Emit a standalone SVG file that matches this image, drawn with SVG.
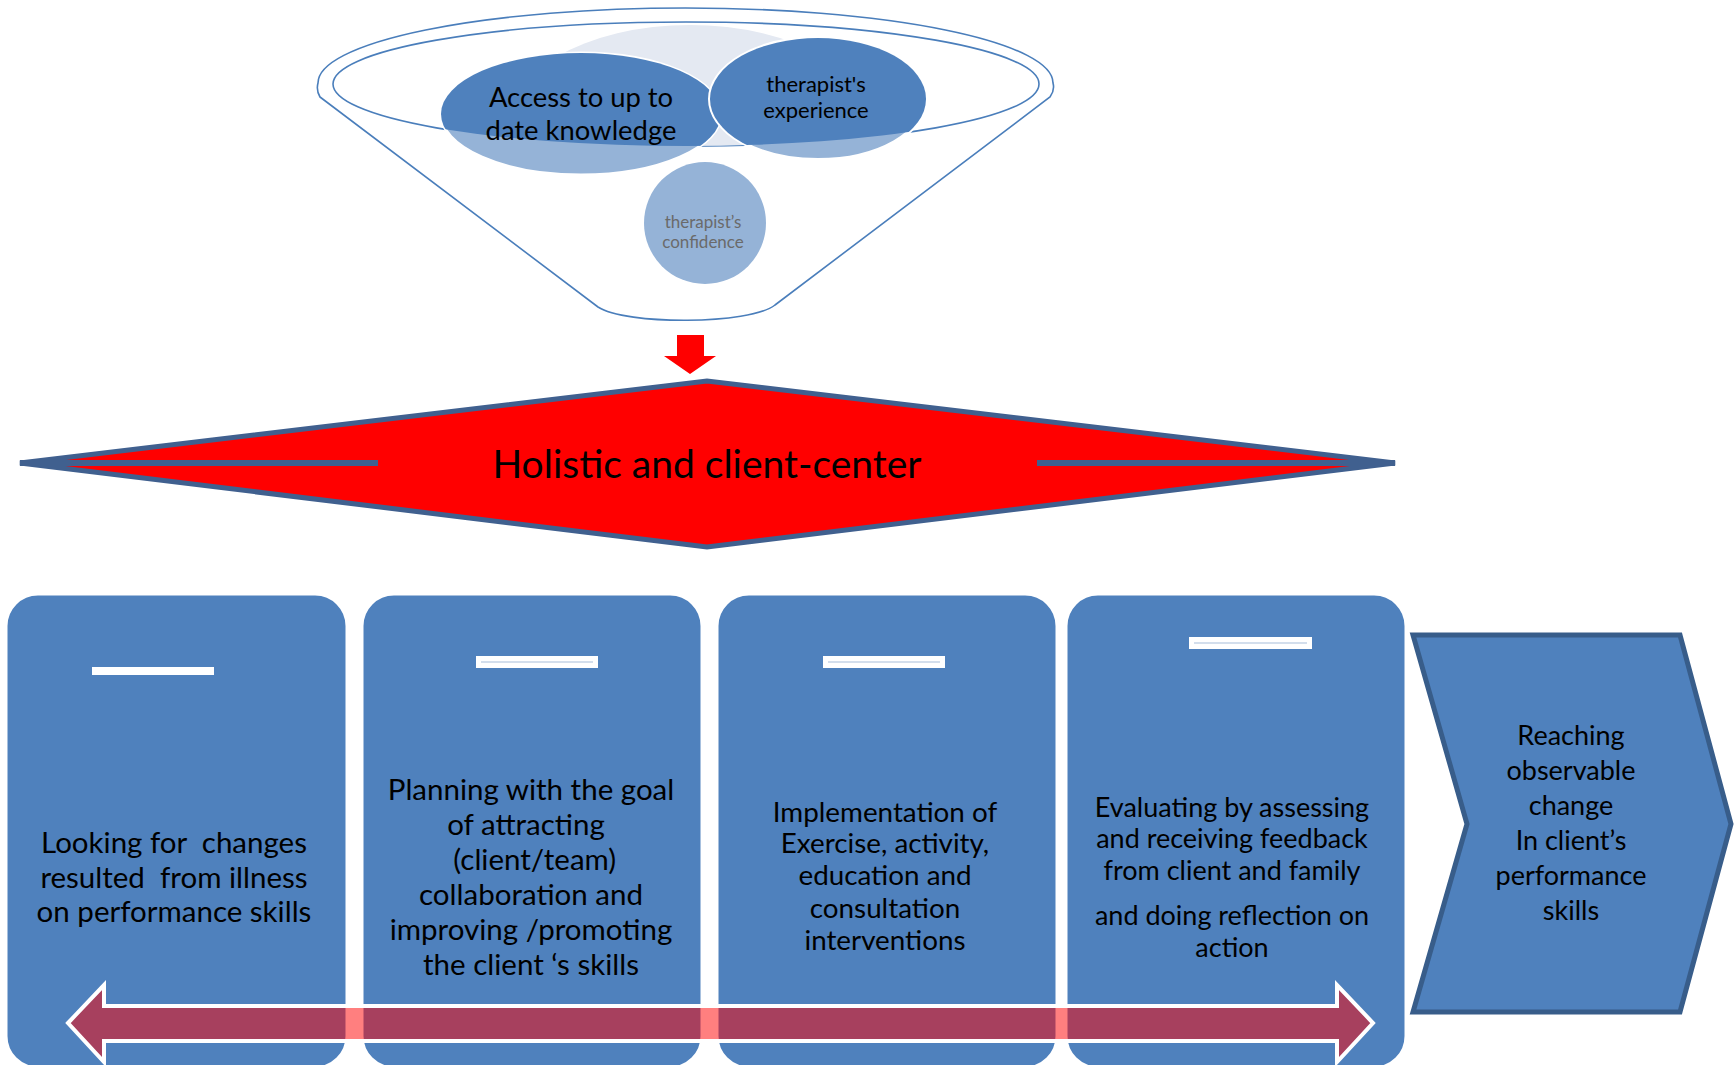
<svg xmlns="http://www.w3.org/2000/svg" width="1736" height="1065" viewBox="0 0 1736 1065">
<style>
text{font-family:Lato,"Liberation Sans",sans-serif;text-anchor:middle;fill:#000;white-space:pre}
.card{fill:#4f81bd;stroke:#fff;stroke-width:3}
.ct{font-size:29.5px}
.ct2{font-size:27.8px}
.ct3{font-size:27px}
.bar{fill:#fff}
.barl{stroke:#c5d3e6;stroke-width:1.5}
.fun{fill:none;stroke:#4a7ebb;stroke-width:1.6}
</style>
<defs>
<clipPath id="inner"><ellipse cx="686" cy="84" rx="353" ry="62"/></clipPath>
</defs>
<rect width="1736" height="1065" fill="#fff"/>
<g id="funnel">
<path class="fun" d="M320,97 L598,307 C625,325 750,325 775,305 L1050,97 Q1055,90 1053,83 A367.5,75 0 0 0 318,83 Q316,90 320,97 Z"/>
<ellipse class="fun" cx="686" cy="84" rx="353" ry="62"/>
<ellipse cx="690" cy="135" rx="190" ry="110" fill="#e4e9f2" clip-path="url(#inner)"/>
</g>
<g id="knowledge">
<ellipse cx="581" cy="114" rx="140" ry="61" fill="#95b3d7" stroke="#fff" stroke-width="3"/>
<ellipse cx="581" cy="114" rx="140" ry="61" fill="#4f81bd" clip-path="url(#inner)"/>
<text x="581" y="107" font-size="27.4">Access to up to</text>
<text x="581" y="140" font-size="27.4">date knowledge</text>
</g>
<g id="experience">
<ellipse cx="818" cy="99" rx="108" ry="61" fill="#95b3d7" stroke="#fff" stroke-width="4"/>
<ellipse cx="818" cy="99" rx="108" ry="61" fill="#4f81bd" clip-path="url(#inner)"/>
<text x="816" y="92" font-size="22">therapist's</text>
<text x="816" y="118" font-size="22">experience</text>
</g>
<g id="confidence">
<ellipse cx="705" cy="223" rx="61" ry="61" fill="#95b3d7"/>
<text x="703" y="228" font-size="17" style="fill:#6a6a6a">therapist’s</text>
<text x="703" y="248" font-size="17" style="fill:#6a6a6a">confidence</text>
</g>
<g id="holistic">
<polygon points="20,463 707,381 1395,463 707,547" fill="#ff0000" stroke="#40608f" stroke-width="5" stroke-linejoin="miter"/>
<line x1="20" y1="463" x2="378" y2="463" stroke="#40608f" stroke-width="6"/>
<line x1="1037" y1="463" x2="1395" y2="463" stroke="#40608f" stroke-width="6"/>
<text x="707" y="478" font-size="39">Holistic and client-center</text>
</g>
<g id="card1">
<rect class="card" x="6" y="594" width="341" height="474" rx="32"/>
<rect class="bar" x="92" y="667" width="122" height="8"/>
<text class="ct" x="174" y="853">Looking for  changes</text>
<text class="ct" x="174" y="888">resulted  from illness</text>
<text class="ct" x="174" y="922">on performance skills</text>
</g>
<g id="card2">
<rect class="card" x="362" y="594" width="340" height="474" rx="32"/>
<rect class="bar" x="476" y="656" width="122" height="12"/>
<line class="barl" x1="481" y1="662" x2="593" y2="662"/>
<text class="ct" x="531" y="800">Planning with the goal</text>
<text class="ct" x="526" y="835">of attracting</text>
<text class="ct" x="531" y="870"> (client/team)</text>
<text class="ct" x="531" y="905">collaboration and</text>
<text class="ct" x="531" y="940">improving /promoting</text>
<text class="ct" x="531" y="975">the client ‘s skills</text>
</g>
<g id="card3">
<rect class="card" x="717" y="594" width="340" height="474" rx="32"/>
<rect class="bar" x="823" y="656" width="122" height="12"/>
<line class="barl" x1="828" y1="662" x2="940" y2="662"/>
<text class="ct2" x="885" y="822">Implementation of</text>
<text class="ct2" x="885" y="853">Exercise, activity,</text>
<text class="ct2" x="885" y="885">education and</text>
<text class="ct2" x="885" y="918">consultation</text>
<text class="ct2" x="885" y="950">interventions</text>
</g>
<g id="card4">
<rect class="card" x="1066" y="594" width="340" height="474" rx="32"/>
<rect class="bar" x="1189" y="637" width="123" height="12"/>
<line class="barl" x1="1194" y1="643" x2="1307" y2="643"/>
<text class="ct3" x="1232" y="817">Evaluating by assessing</text>
<text class="ct3" x="1232" y="848">and receiving feedback</text>
<text class="ct3" x="1232" y="880">from client and family</text>
<text class="ct3" x="1232" y="925">and doing reflection on</text>
<text class="ct3" x="1232" y="957">action</text>
</g>
<g id="outcome">
<polygon points="1413,635 1680,635 1731,824 1680,1012 1413,1012 1467,824" fill="#4f81bd" stroke="#385d8a" stroke-width="5"/>
<text class="ct3" x="1571" y="745">Reaching</text>
<text class="ct3" x="1571" y="780">observable</text>
<text class="ct3" x="1571" y="815">change</text>
<text class="ct3" x="1571" y="850">In client’s</text>
<text class="ct3" x="1571" y="885">performance</text>
<text class="ct3" x="1571" y="920">skills</text>
</g>
<g id="connectors">
<polygon points="677,335 704,335 704,356 716,356 690,374 664,356 677,356" fill="#ff0000"/>
<path d="M68,1023 L104,985 L104,1006 L1337,1006 L1337,985 L1373,1023 L1337,1062 L1337,1041 L104,1041 L104,1062 Z" fill="#ff0000" fill-opacity="0.5" stroke="#fff" stroke-width="4" stroke-linejoin="miter"/>
</g>
</svg>
